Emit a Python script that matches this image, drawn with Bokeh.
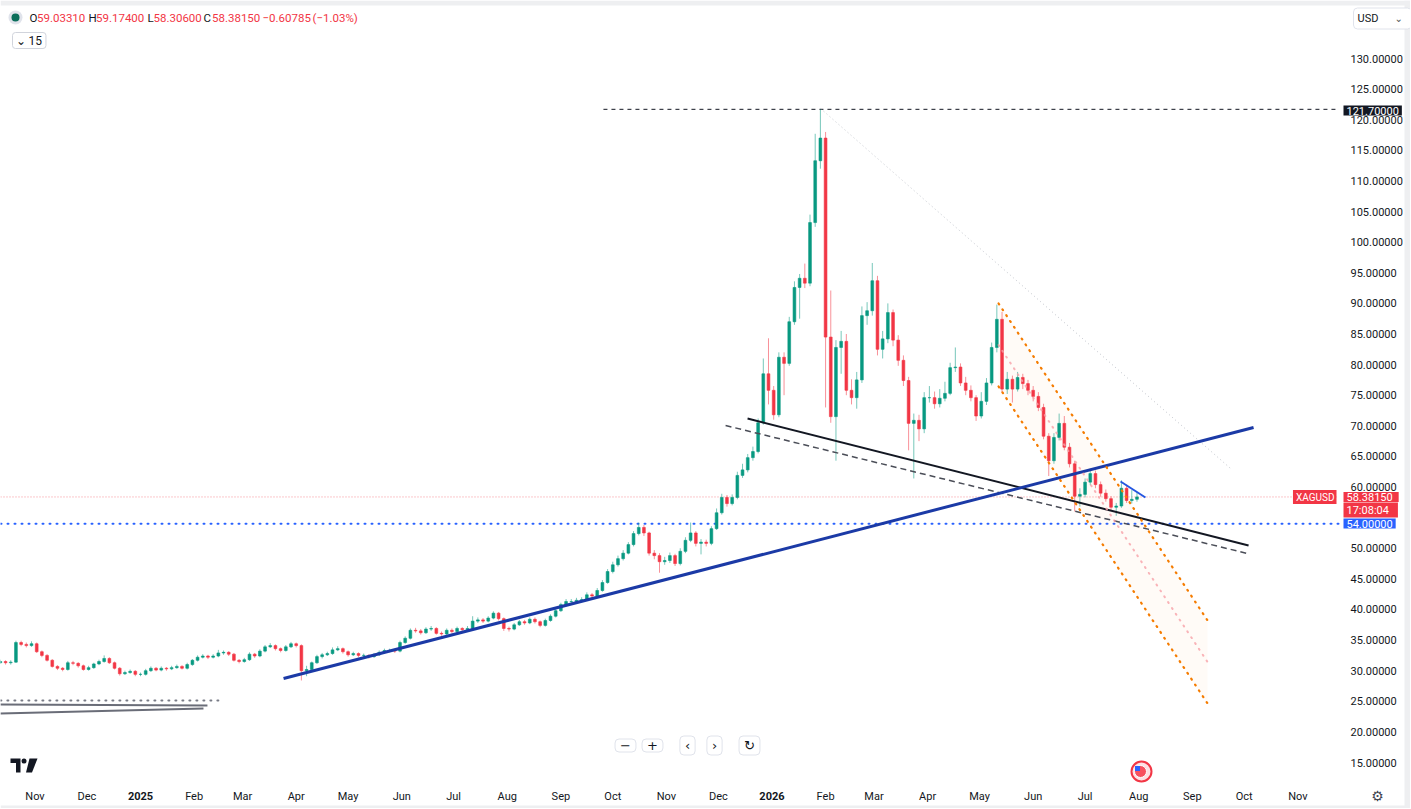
from bokeh.plotting import figure
from bokeh.models import Range1d, FixedTicker, PrintfTickFormatter, Label, ColumnDataSource
from bokeh.embed import file_html
from bokeh.resources import INLINE

# ---------------- data (x in days from 2025-01-01, y in USD) ----------------
candle_first_day = -81
candle_step = 3
first_open = 31.3

closes = [
    31.5, 31.3, 31.4, 34.6, 34.3, 34.1, 34.4, 33.1, 32.5, 31.7,
    30.7, 30.4, 30.2, 31.3, 31.2, 30.8, 30.2, 30.5, 31.1, 31.5,
    32.0, 31.3, 30.4, 29.5, 29.7, 29.9, 29.4, 29.4, 30.0, 30.4,
    30.1, 30.4, 30.3, 30.5, 30.7, 30.4, 31.0, 31.7, 32.2, 32.4,
    32.2, 32.4, 32.9, 33.0, 32.7, 31.7, 31.5, 31.8, 32.7, 32.4,
    33.2, 33.9, 34.1, 33.6, 33.3, 33.9, 34.4, 34.1, 30.0, 30.2,
    31.3, 32.3, 32.6, 32.8, 33.4, 33.6, 33.1, 32.6, 32.8, 32.5,
    32.5, 32.3, 32.6, 33.0, 33.3, 33.3, 33.2, 34.6, 35.3, 36.6,
    36.5, 36.2, 36.8, 36.9, 36.1, 36.0, 36.6, 36.4, 36.9, 36.7,
    36.9, 38.1, 38.3, 38.1, 38.6, 39.4, 38.5, 36.9, 36.8, 37.5,
    38.0, 37.8, 38.4, 38.0, 37.4, 38.2, 38.9, 39.8, 40.8, 41.3,
    41.3, 41.5, 41.6, 42.4, 42.2, 43.1, 44.4, 46.2, 47.3, 48.3,
    49.2, 50.6, 52.4, 53.4, 52.5, 49.2, 48.8, 47.8, 48.0, 48.8,
    47.5, 49.5, 51.3, 52.5, 50.8, 51.0, 50.8, 53.2, 55.8, 58.3,
    57.3, 58.3, 61.9, 62.8, 64.8, 65.8, 70.5, 78.5, 75.8, 71.8,
    81.2, 80.2, 87.0, 92.6, 94.1, 93.3, 103.2, 113.3, 117.0, 84.5,
    71.5, 82.8, 83.8, 75.8, 74.6, 77.5, 88.0, 88.8, 93.7, 82.5,
    84.2, 88.5, 84.0, 80.7, 77.4, 70.4, 70.9, 69.5, 74.6, 74.6,
    73.6, 74.5, 75.3, 79.5, 79.6, 77.0, 75.8, 74.6, 71.6, 74.0,
    77.0, 82.8, 87.4, 76.0, 77.6, 76.0, 77.9, 76.9, 75.8, 74.8,
    73.0, 68.3, 64.3, 68.1, 70.4, 66.5, 63.8, 58.5, 58.8, 60.8,
    62.2, 60.4, 59.0, 58.1, 56.7, 56.9, 59.8, 57.8, 58.0, 58.3815,
]
highs = [
    31.8, 31.7, 31.7, 34.9, 34.9, 34.6, 34.8, 34.6, 33.3, 32.7,
    31.9, 30.9, 30.6, 31.6, 31.6, 31.4, 31.0, 30.8, 31.3, 31.8,
    32.5, 32.2, 31.5, 30.6, 30.0, 30.2, 30.1, 29.7, 30.3, 30.7,
    30.6, 30.7, 30.6, 30.8, 31.0, 30.9, 31.3, 31.9, 32.5, 32.7,
    32.6, 32.7, 33.4, 33.3, 33.2, 32.9, 31.9, 32.1, 33.0, 32.9,
    33.5, 34.2, 34.5, 34.3, 33.8, 34.2, 34.7, 34.6, 34.3, 30.8,
    31.5, 32.6, 32.9, 33.1, 33.8, 34.0, 33.8, 33.3, 33.1, 33.0,
    32.8, 32.7, 32.9, 33.3, 33.6, 33.6, 33.5, 34.9, 35.6, 36.9,
    37.0, 36.8, 37.1, 37.3, 37.1, 36.4, 36.9, 36.9, 37.2, 37.1,
    37.3, 38.9, 38.7, 38.6, 38.9, 39.7, 39.6, 38.7, 37.2, 37.8,
    38.3, 38.3, 38.7, 38.7, 38.2, 38.5, 39.2, 40.1, 41.1, 41.7,
    41.7, 41.9, 42.0, 42.8, 42.7, 43.5, 44.8, 46.6, 47.8, 48.8,
    49.7, 51.0, 52.8, 54.2, 53.8, 52.7, 49.7, 49.2, 48.6, 49.3,
    49.1, 50.0, 51.8, 54.2, 52.8, 51.5, 51.4, 53.6, 56.5, 58.9,
    58.7, 58.8, 62.5, 63.8, 65.4, 66.6, 71.2, 81.0, 84.3, 76.5,
    82.0, 82.0, 87.8, 93.6, 94.8, 96.5, 104.5, 117.7, 121.7, 118.0,
    92.1, 84.0, 85.5, 85.0, 77.6, 78.8, 89.5, 90.2, 96.6, 94.5,
    85.5, 90.0, 89.0, 84.8, 81.5, 78.0, 72.0, 71.8, 75.5, 76.5,
    75.6, 76.0, 77.2, 80.3, 82.8, 80.2, 78.0, 76.6, 75.0, 75.5,
    77.8, 83.6, 89.8, 88.6, 78.8, 78.2, 78.8, 78.5, 77.5, 76.5,
    75.5, 73.6, 68.8, 68.8, 72.0, 71.6, 67.2, 64.3, 59.8, 61.4,
    63.0, 62.7, 60.9, 59.6, 58.5, 57.4, 61.1, 60.4, 59.5, 59.174,
]
lows = [
    31.1, 31.0, 31.0, 31.3, 34.0, 33.8, 33.9, 32.9, 32.2, 31.5,
    30.5, 30.1, 29.9, 30.0, 30.9, 30.5, 30.0, 30.0, 30.3, 30.9,
    31.3, 31.1, 30.2, 29.2, 29.3, 29.5, 29.1, 29.1, 29.2, 29.8,
    29.9, 29.9, 30.0, 30.1, 30.3, 30.2, 30.2, 30.8, 31.5, 32.0,
    31.9, 32.0, 32.2, 32.6, 32.4, 31.5, 31.2, 31.3, 31.6, 32.1,
    32.2, 33.0, 33.7, 33.3, 33.0, 33.1, 33.7, 33.8, 28.4, 29.1,
    30.0, 31.1, 32.0, 32.4, 32.6, 33.2, 32.8, 32.3, 32.4, 32.2,
    32.2, 32.0, 32.1, 32.4, 32.8, 33.0, 32.9, 33.0, 34.4, 35.1,
    36.2, 35.9, 36.0, 36.5, 35.9, 35.7, 35.8, 36.1, 36.2, 36.4,
    36.5, 36.7, 37.8, 37.8, 37.9, 38.4, 38.2, 36.5, 36.4, 36.6,
    37.3, 37.5, 37.6, 37.7, 37.1, 37.2, 38.0, 38.7, 39.6, 40.5,
    41.0, 41.0, 41.2, 41.4, 41.6, 42.0, 42.9, 44.2, 45.9, 47.0,
    48.0, 49.0, 50.3, 52.1, 52.0, 48.8, 48.2, 46.0, 47.3, 47.6,
    47.1, 47.2, 49.2, 51.0, 50.3, 49.0, 50.3, 50.5, 53.0, 55.5,
    56.8, 57.0, 58.0, 61.5, 62.4, 64.3, 65.5, 70.2, 73.5, 71.0,
    71.4, 75.0, 79.8, 86.5, 87.5, 92.5, 92.8, 102.5, 112.0, 73.0,
    70.5, 64.3, 78.5, 75.0, 73.5, 72.8, 77.0, 86.5, 88.0, 81.5,
    81.0, 83.5, 83.0, 79.8, 76.5, 66.0, 61.4, 67.5, 68.8, 73.8,
    72.8, 73.0, 74.0, 75.0, 78.8, 76.5, 75.0, 74.0, 70.8, 71.2,
    73.4, 76.6, 82.0, 75.5, 75.2, 73.8, 75.6, 76.0, 75.0, 74.0,
    72.4, 67.8, 61.8, 63.8, 67.6, 66.0, 63.2, 56.0, 56.8, 58.3,
    60.3, 59.8, 58.4, 57.6, 56.2, 55.3, 56.6, 57.4, 57.3, 57.6,
]

tick_days = [-61, -31, 0, 31, 59, 90, 120, 151, 181, 212, 243, 273, 304, 334,
             365, 396, 424, 455, 485, 516, 546, 577, 608, 638, 669]
tick_labels = ["Nov", "Dec", "2025", "Feb", "Mar", "Apr", "May", "Jun", "Jul", "Aug",
               "Sep", "Oct", "Nov", "Dec", "2026", "Feb", "Mar", "Apr", "May", "Jun",
               "Jul", "Aug", "Sep", "Oct", "Nov"]
year_labels = ["2025", "2026"]
price_ticks = [15, 20, 25, 30, 35, 40, 45, 50, 60, 65, 70, 75, 80, 85, 90,
               95, 100, 105, 110, 115, 120, 125, 130]

symbol = "XAGUSD"
hdr_open, hdr_high, hdr_low, hdr_close = "59.03310", "59.17400", "58.30600", "58.38150"
hdr_change, hdr_pct = "\u22120.60785", "(\u22121.03%)"
last_price = 58.3815
countdown = "17:08:04"
support_level = 54.0
peak_level = 121.7
peak_line_start = 267.6

# user drawings: [start, end] in (day, price)
trend_days, trend_prices = [82.7, 643.4], [28.73, 69.73]
neck_days, neck_prices = [350.9, 640.5], [71.19, 50.45]
neck2_days, neck2_prices = [338.2, 639.9], [70.05, 49.14]
fan_days, fan_prices = [393.1, 630.1], [121.83, 63.03]
chan_days = [496.0, 616.8]
chan_upper, chan_mid, chan_lower = [89.98, 38.20], [83.20, 31.42], [76.42, 24.64]
wedge_days, wedge_prices = [566.5, 580.9], [60.90, 58.29]
old_dot_days, old_dot_prices = [-81, 47.4], [25.13, 25.13]
old_a_days, old_a_prices = [-81, 38.7], [24.48, 24.32]
old_b_days, old_b_prices = [-81, 36.4], [23.00, 23.83]

# ---------------- layout ----------------
UP, DOWN = "#089981", "#f23645"
FONT = "Roboto"
W, H = 1410, 808
PXD, X0 = 1.73, 140.0      # screen px per day, screen x of day 0
PXP, Y130 = 6.122, 58.0    # screen px per USD, screen y of 130
PANE_RIGHT, PANE_BOTTOM = 1338, 780


def sx(px):
    return (px - X0) / PXD


def sy(py):
    return 130.0 - (py - Y130) / PXP


p = figure(width=W, height=H, output_backend="svg", toolbar_location=None,
           x_range=Range1d(sx(0), sx(W)), y_range=Range1d(sy(H), sy(0)),
           y_axis_location="right", min_border=0)
p.background_fill_color = "white"
p.border_fill_color = "white"
p.outline_line_color = None
p.grid.visible = False

p.xaxis.fixed_location = sy(PANE_BOTTOM)
p.yaxis.fixed_location = sx(PANE_RIGHT)
p.xaxis.ticker = FixedTicker(ticks=tick_days)
p.xaxis.major_label_overrides = {d: ("" if lab in year_labels else lab)
                                 for d, lab in zip(tick_days, tick_labels)}
p.yaxis.ticker = FixedTicker(ticks=price_ticks)
p.yaxis.formatter = PrintfTickFormatter(format="%.5f")
for ax in (p.xaxis, p.yaxis):
    ax.axis_line_color = None
    ax.major_tick_line_color = None
    ax.minor_tick_line_color = None
    ax.major_tick_out = 0
    ax.major_label_text_font = FONT
    ax.major_label_text_font_size = "11px"
    ax.major_label_text_color = "#131722"
p.xaxis.major_label_standoff = 9
p.yaxis.major_label_standoff = 12

# window chrome strips
p.quad(left=[sx(0), sx(1404), sx(0)], right=[sx(W), sx(W), sx(W)],
       bottom=[sy(5), sy(H), sy(H)], top=[sy(0), sy(0), sy(805)],
       fill_color="#eeeff1", line_color=None)

# price-level lines
p.line([sx(0), sx(PANE_RIGHT)], [last_price, last_price], line_color=DOWN, line_alpha=0.55,
       line_width=1, line_dash="1 2")
p.line([sx(0), sx(PANE_RIGHT)], [support_level, support_level], line_color="#2962ff",
       line_width=2, line_dash="1 6", line_cap="round")
p.line([peak_line_start, sx(PANE_RIGHT)], [peak_level, peak_level], line_color="#131722",
       line_width=1, line_dash="4 4")

# channel fill
p.patch([chan_days[0], chan_days[1], chan_days[1], chan_days[0]],
        [chan_upper[0], chan_upper[1], chan_lower[1], chan_lower[0]],
        fill_color="#f57c00", fill_alpha=0.03, line_color=None)

# candles
n = len(closes)
xs = [candle_first_day + candle_step * i for i in range(n)]
opens = [first_open] + closes[:-1]
colors = [UP if c >= o else DOWN for o, c in zip(opens, closes)]
src = ColumnDataSource(dict(x=xs, h=highs, l=lows,
                            top=[max(o, c) for o, c in zip(opens, closes)],
                            bottom=[min(o, c) for o, c in zip(opens, closes)],
                            color=colors))
p.segment(x0="x", y0="l", x1="x", y1="h", line_color="color", line_alpha=0.55,
          line_width=1, source=src)
p.vbar(x="x", width=1.6, top="top", bottom="bottom", fill_color="color",
       line_color="color", line_width=0.6, source=src)

# drawings
p.line(fan_days, fan_prices, line_color="#b2b5be", line_width=1, line_dash="1 3", line_alpha=0.8)
p.line(neck2_days, neck2_prices, line_color="#4a4d57", line_width=1.5, line_dash="6 4")
p.line(neck_days, neck_prices, line_color="#131722", line_width=2)
p.line(trend_days, trend_prices, line_color="#1b3aa6", line_width=3)
p.line(chan_days, chan_upper, line_color="#f57c00", line_width=2.2, line_dash="1 6", line_cap="round")
p.line(chan_days, chan_lower, line_color="#f57c00", line_width=2.2, line_dash="1 6", line_cap="round")
p.line(chan_days, chan_mid, line_color="#f7a1a8", line_width=2, line_dash="1 6",
       line_cap="round", line_alpha=0.8)
p.line(wedge_days, wedge_prices, line_color="#2456e0", line_width=2)
p.line(old_dot_days, old_dot_prices, line_color="#787b86", line_width=2, line_dash="1 6", line_cap="round")
p.line(old_a_days, old_a_prices, line_color="#6a6d78", line_width=2)
p.line(old_b_days, old_b_prices, line_color="#6a6d78", line_width=2)


def lab(px, py, text, color="#131722", size="11px", align="left", bold=False, font=FONT, **kw):
    p.add_layout(Label(x=sx(px), y=sy(py), text=text, text_color=color, text_font=font,
                       text_font_size=size, text_align=align, text_baseline="middle",
                       text_font_style="bold" if bold else "normal", **kw))


# year labels on the time axis (bold, as in the reference)
for d, t in zip(tick_days, tick_labels):
    if t in year_labels:
        p.add_layout(Label(x=d, y=sy(795), text=t, text_color="#131722", text_font=FONT,
                           text_font_size="11px", text_font_style="bold",
                           text_align="center", text_baseline="middle"))

# header
p.scatter([sx(15)], [sy(17)], size=14, fill_color="#e0e3eb", line_color=None)
p.scatter([sx(15)], [sy(17)], size=8, fill_color="#0b6e5b", line_color=None)
for px_, t, c in [(29, "O", "#131722"), (36.5, hdr_open, DOWN), (88, "H", "#131722"),
                  (95.5, hdr_high, DOWN), (147, "L", "#131722"), (153, hdr_low, DOWN),
                  (203, "C", "#131722"), (211.5, hdr_close, DOWN), (262, hdr_change, DOWN),
                  (312, hdr_pct, DOWN)]:
    lab(px_, 17, t, color=c, size="11.5px")
lab(12, 40, "\u2304 15", size="12px", background_fill_color="white",
    border_line_color="#d1d4dc", border_radius=3,
    padding=dict(left=3, right=4, top=1, bottom=1))
lab(1353, 18, "USD", size="11px", background_fill_color="white",
    border_line_color="#e0e3eb", border_radius=4,
    padding=dict(left=4, right=33, top=4, bottom=4))
lab(1394, 18, "\u2304", size="10px", color="#555", font="DejaVu Sans")

# price tags on the axis
lab(1343, 110, "121.70000", color="white", background_fill_color="#131722",
    padding=dict(left=3, right=3, top=1, bottom=1))
lab(1336, 496.5, symbol, color="white", size="10px", align="right",
    background_fill_color=DOWN, padding=dict(left=3, right=2, top=2, bottom=1))
lab(1343, 496.5, hdr_close, color="white", background_fill_color=DOWN,
    padding=dict(left=3, right=6, top=1, bottom=1))
lab(1343, 509.5, countdown, color="white", background_fill_color=DOWN,
    padding=dict(left=3, right=9, top=1, bottom=1))
lab(1343, 523, "54.00000", color="white", background_fill_color="#2962ff",
    padding=dict(left=3, right=3, top=1, bottom=1))

# navigation buttons
for px_, t in [(625, "\u2212"), (652, "+"), (687, "\u2039"), (714, "\u203a"), (749, "\u21bb")]:
    lab(px_, 745, t, size="13px", align="center", font="DejaVu Sans",
        background_fill_color="white", border_line_color="#e0e3eb", border_radius=4,
        padding=dict(left=5, right=5, top=2, bottom=2))

# logo (bottom-left)
p.patch([sx(v) for v in (10, 20, 20, 15.5, 15.5, 10)],
        [sy(v) for v in (758, 758, 772, 772, 762.5, 762.5)],
        fill_color="#131722", line_color=None)
p.scatter([sx(23.5)], [sy(760.5)], size=5, fill_color="#131722", line_color=None)
p.patch([sx(v) for v in (29, 37, 31.5, 25.5)], [sy(v) for v in (758, 758, 772, 772)],
        fill_color="#131722", line_color=None)

# event flag
p.scatter([sx(1141)], [sy(771)], size=20, fill_color="#fde2e4", line_color="#f23645", line_width=2)
p.scatter([sx(1140)], [sy(771)], size=12, fill_color="#f7525f", line_color="white", line_width=1)
p.scatter([sx(1137)], [sy(768)], size=5, marker="square", fill_color="#2962ff", line_color=None)

# settings icon
lab(1377, 795, "\u2699", size="14px", align="center", font="DejaVu Sans", color="#434651")

open("out.html", "w").write(file_html(p, INLINE))
